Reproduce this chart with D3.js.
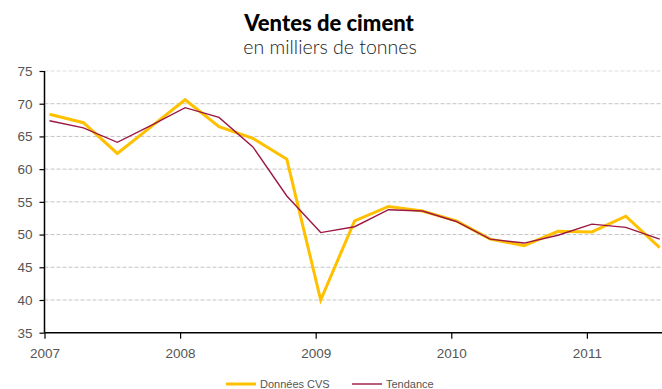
<!DOCTYPE html>
<html>
<head>
<meta charset="utf-8">
<script src="https://cdn.jsdelivr.net/npm/d3@7"></script>
<style>
  html, body { margin: 0; padding: 0; background: #fff; }
  svg { display: block; }
</style>
</head>
<body>
<svg id="chart" width="662" height="389"></svg>
<script>
// Quarterly periods, 2007 Q1 to 2011 Q3
const quarters = [
  "2007T1","2007T2","2007T3","2007T4",
  "2008T1","2008T2","2008T3","2008T4",
  "2009T1","2009T2","2009T3","2009T4",
  "2010T1","2010T2","2010T3","2010T4",
  "2011T1","2011T2","2011T3"
];
// Seasonally adjusted sales (thousand tonnes)
const donneesCVS = [68.4, 67.1, 62.4, 66.5, 70.6, 66.5, 64.7, 61.5, 40.0, 52.1, 54.3, 53.6, 52.1, 49.3, 48.3, 50.5, 50.4, 52.8, 48.0];
// Trend component
const tendance = [67.4, 66.3, 64.1, 66.7, 69.4, 67.9, 63.4, 55.9, 50.3, 51.2, 53.8, 53.6, 52.0, 49.3, 48.7, 49.9, 51.6, 51.1, 49.3];
const yTicks = [35, 40, 45, 50, 55, 60, 65, 70, 75];
const xTickYears = [2007, 2008, 2009, 2010, 2011];
const seriesNames = ["Données CVS", "Tendance"];

(function () {
  const svg = d3.select("#chart");
  const m = { left: 44.5, right: 662, top: 71, bottom: 332.7 };

  // Each quarter sits a little after its start (about mid-first-month)
  const qTime = q => +q.slice(0, 4) + (+q.slice(5) - 1) / 4 + 0.037;

  const x = d3.scaleLinear().domain([2007, 2011.554]).range([m.left, m.right]);
  const y = d3.scaleLinear().domain([35, 75]).range([m.bottom, m.top]);

  const txtColor = "#555";
  const font = "'Liberation Sans', Arial, sans-serif";

  // Title
  svg.append("text").attr("x", 329).attr("y", 31).attr("text-anchor", "middle")
    .attr("font-family", "Lato, 'Open Sans', sans-serif").attr("font-weight", 900)
    .attr("font-size", 22).attr("fill", "#000")
    .text("Ventes de ciment");
  svg.append("text").attr("x", 330).attr("y", 54).attr("text-anchor", "middle")
    .attr("font-family", "Lato, 'Open Sans', sans-serif").attr("font-weight", 300)
    .attr("font-size", 19.5).attr("fill", "#222")
    .text("en milliers de tonnes");

  // Horizontal dashed gridlines
  svg.append("g").selectAll("line").data(yTicks.filter(t => t > 35)).join("line")
    .attr("x1", m.left).attr("x2", m.right)
    .attr("y1", d => y(d)).attr("y2", d => y(d))
    .attr("stroke", d => d === 75 ? "#ddd" : "#c4c4c4")
    .attr("stroke-width", 1)
    .attr("stroke-dasharray", "4,2");

  // Y axis
  const yAxis = svg.append("g").attr("transform", `translate(${m.left},0)`)
    .call(d3.axisLeft(y).tickValues(yTicks).tickSize(5).tickPadding(7).tickFormat(d3.format("d")));
  yAxis.select(".domain").attr("stroke", "#000").attr("stroke-width", 1.5)
    .attr("d", `M0,${m.top}V${m.bottom}`);
  yAxis.selectAll(".tick line").attr("stroke", "#000").attr("stroke-width", 1.2);
  yAxis.selectAll(".tick text").attr("font-family", font).attr("font-size", 13.5).attr("fill", txtColor);

  // X axis
  const xAxis = svg.append("g").attr("transform", `translate(0,${m.bottom})`)
    .call(d3.axisBottom(x).tickValues(xTickYears).tickSize(6).tickPadding(10).tickFormat(d3.format("d")));
  xAxis.select(".domain").attr("stroke", "#000").attr("stroke-width", 1.5)
    .attr("d", `M${m.left},0H${m.right}`);
  xAxis.selectAll(".tick line").attr("stroke", "#000").attr("stroke-width", 1.2);
  xAxis.selectAll(".tick text").attr("font-family", font).attr("font-size", 13.5).attr("fill", txtColor);

  // Series lines
  const line = d3.line().x((d, i) => x(qTime(quarters[i]))).y(d => y(d));
  svg.append("path").datum(donneesCVS).attr("d", line)
    .attr("fill", "none").attr("stroke", "#FFC000").attr("stroke-width", 3)
    .attr("stroke-linejoin", "miter");
  svg.append("path").datum(tendance).attr("d", line)
    .attr("fill", "none").attr("stroke", "#9C1742").attr("stroke-width", 1.4)
    .attr("stroke-linejoin", "miter");

  // Legend
  const legend = [
    { name: seriesNames[0], color: "#FFC000", w: 3, x: 226 },
    { name: seriesNames[1], color: "#9C1742", w: 1.4, x: 352 }
  ];
  const lg = svg.append("g").selectAll("g").data(legend).join("g")
    .attr("transform", d => `translate(${d.x},384)`);
  lg.append("line").attr("x1", 0).attr("x2", 30).attr("y1", 0).attr("y2", 0)
    .attr("stroke", d => d.color).attr("stroke-width", d => d.w);
  lg.append("text").attr("x", 34).attr("y", 4).attr("font-family", font)
    .attr("font-size", 11).attr("fill", txtColor).text(d => d.name);
})();
</script>
</body>
</html>
